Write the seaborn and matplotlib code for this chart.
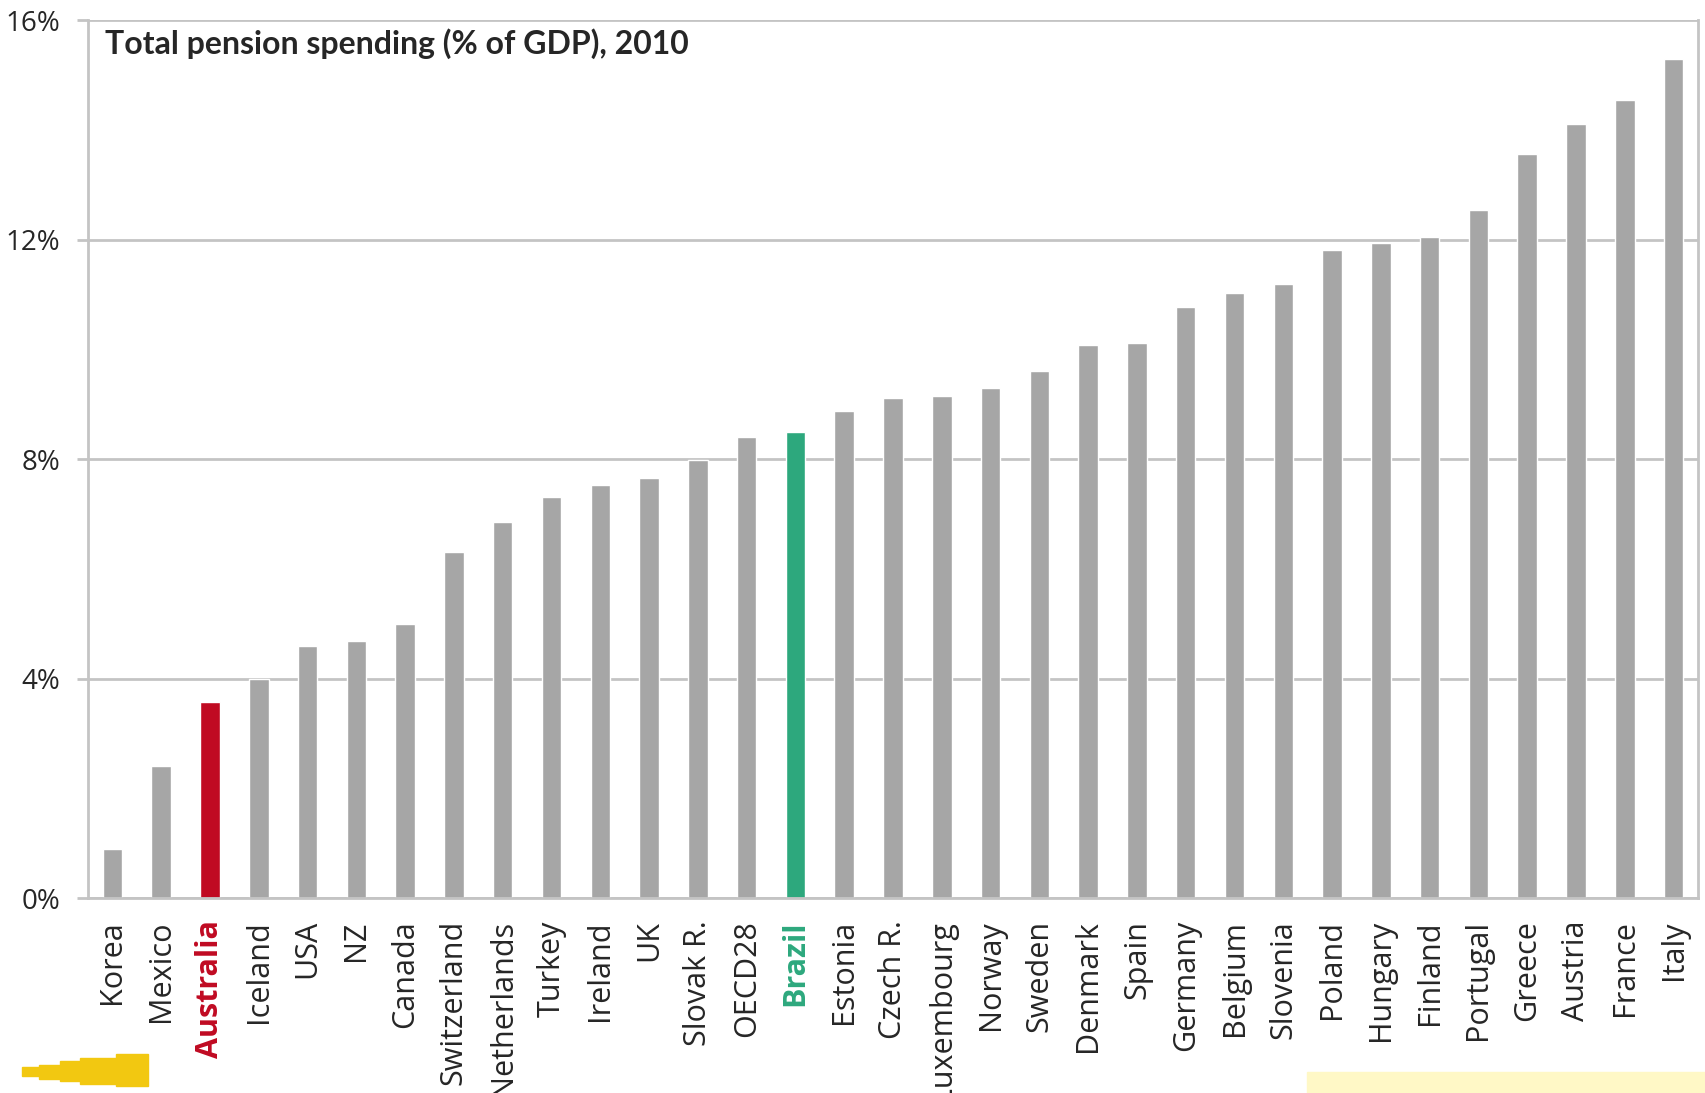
import matplotlib
matplotlib.use("Agg")
import matplotlib.pyplot as plt
import numpy as np
import pandas as pd
import seaborn as sns
from matplotlib.patches import Rectangle

# Veriler
countries = [
    "Korea", "Mexico", "Australia", "Iceland", "USA", "NZ", "Canada",
    "Switzerland", "Netherlands", "Turkey", "Ireland", "UK", "Slovak R.",
    "OECD28", "Brazil", "Estonia", "Czech R.", "Luxembourg", "Norway",
    "Sweden", "Denmark", "Spain", "Germany", "Belgium", "Slovenia",
    "Poland", "Hungary", "Finland", "Portugal", "Greece", "Austria",
    "France", "Italy",
]
spending = [
    0.89, 2.40, 3.58, 4.00, 4.59, 4.69, 4.99,
    6.30, 6.85, 7.31, 7.52, 7.66, 7.98,
    8.40, 8.50, 8.87, 9.11, 9.15, 9.29,
    9.60, 10.08, 10.12, 10.77, 11.03, 11.19,
    11.80, 11.94, 12.04, 12.53, 13.56, 14.10,
    14.55, 15.29,
]
yticks = [0, 4, 8, 12, 16]
ytick_labels = ["0%", "4%", "8%", "12%", "16%"]
title = "Total pension spending (% of GDP), 2010"

GREY = "#A6A6A6"
RED = "#C00A22"
GREEN = "#2DA87D"
LINE = "#C4C4C4"
highlight = {"Australia": RED, "Brazil": GREEN}

df = pd.DataFrame({"country": countries, "value": spending})
palette = {c: highlight.get(c, GREY) for c in countries}

sns.set_style("white")
plt.rcParams["font.family"] = ["Open Sans", "DejaVu Sans"]

fig = plt.figure(figsize=(17.06, 10.93), dpi=100)
ax = fig.add_axes([0.0516, 0.1784, 0.9437, 0.8033])

sns.barplot(
    data=df, x="country", y="value", hue="country", palette=palette,
    width=0.4, legend=False, ax=ax, saturation=1,
)

ax.set_ylim(0, 16)
ax.set_xlim(-0.5, len(countries) - 0.5)
ax.set_yticks(yticks)
ax.set_yticklabels(ytick_labels, fontsize=20)
ax.yaxis.grid(True, color=LINE, linewidth=2)
ax.set_axisbelow(True)
ax.set_xlabel("")
ax.set_ylabel("")

# Eksen çizgileri
for side in ["left", "bottom", "right"]:
    ax.spines[side].set_color(LINE)
    ax.spines[side].set_linewidth(2)
ax.spines["top"].set_visible(False)

# Excel tarzı: kategoriler arasına tik işaretleri
ax.set_xticks(np.arange(len(countries)))
ax.set_xticklabels(countries, rotation=90, fontsize=22)
ax.set_xticks(np.arange(-0.5, len(countries)), minor=True)
ax.tick_params(axis="x", which="major", length=0, pad=16)
ax.tick_params(axis="x", which="minor", length=10, width=2, color=LINE, direction="out")
ax.tick_params(axis="y", length=8, width=2, color=LINE, pad=12, left=True)

for lbl in ax.get_xticklabels():
    c = lbl.get_text()
    if c in highlight:
        lbl.set_color(highlight[c])
        lbl.set_fontweight("bold")

ax.text(0.0106, 0.973, title, transform=ax.transAxes, fontsize=23,
        fontweight="bold", family=["Lato", "DejaVu Sans"], va="center", ha="left")

# Alt köşe süslemeleri (logo ve sarı kutu)
fig.patches.append(Rectangle((0.766, 0.0), 0.234, 0.019, transform=fig.transFigure,
                             color="#FFF8C6", zorder=0))
for x0, y0, w, h in [(0.013, 0.016, 0.010, 0.008), (0.023, 0.013, 0.012, 0.013),
                     (0.035, 0.011, 0.012, 0.018), (0.047, 0.008, 0.021, 0.024),
                     (0.068, 0.006, 0.019, 0.030)]:
    fig.patches.append(Rectangle((x0, y0), w, h, transform=fig.transFigure,
                                 color="#F2C811", zorder=0))

plt.savefig("out.png", dpi=100)
plt.close()
